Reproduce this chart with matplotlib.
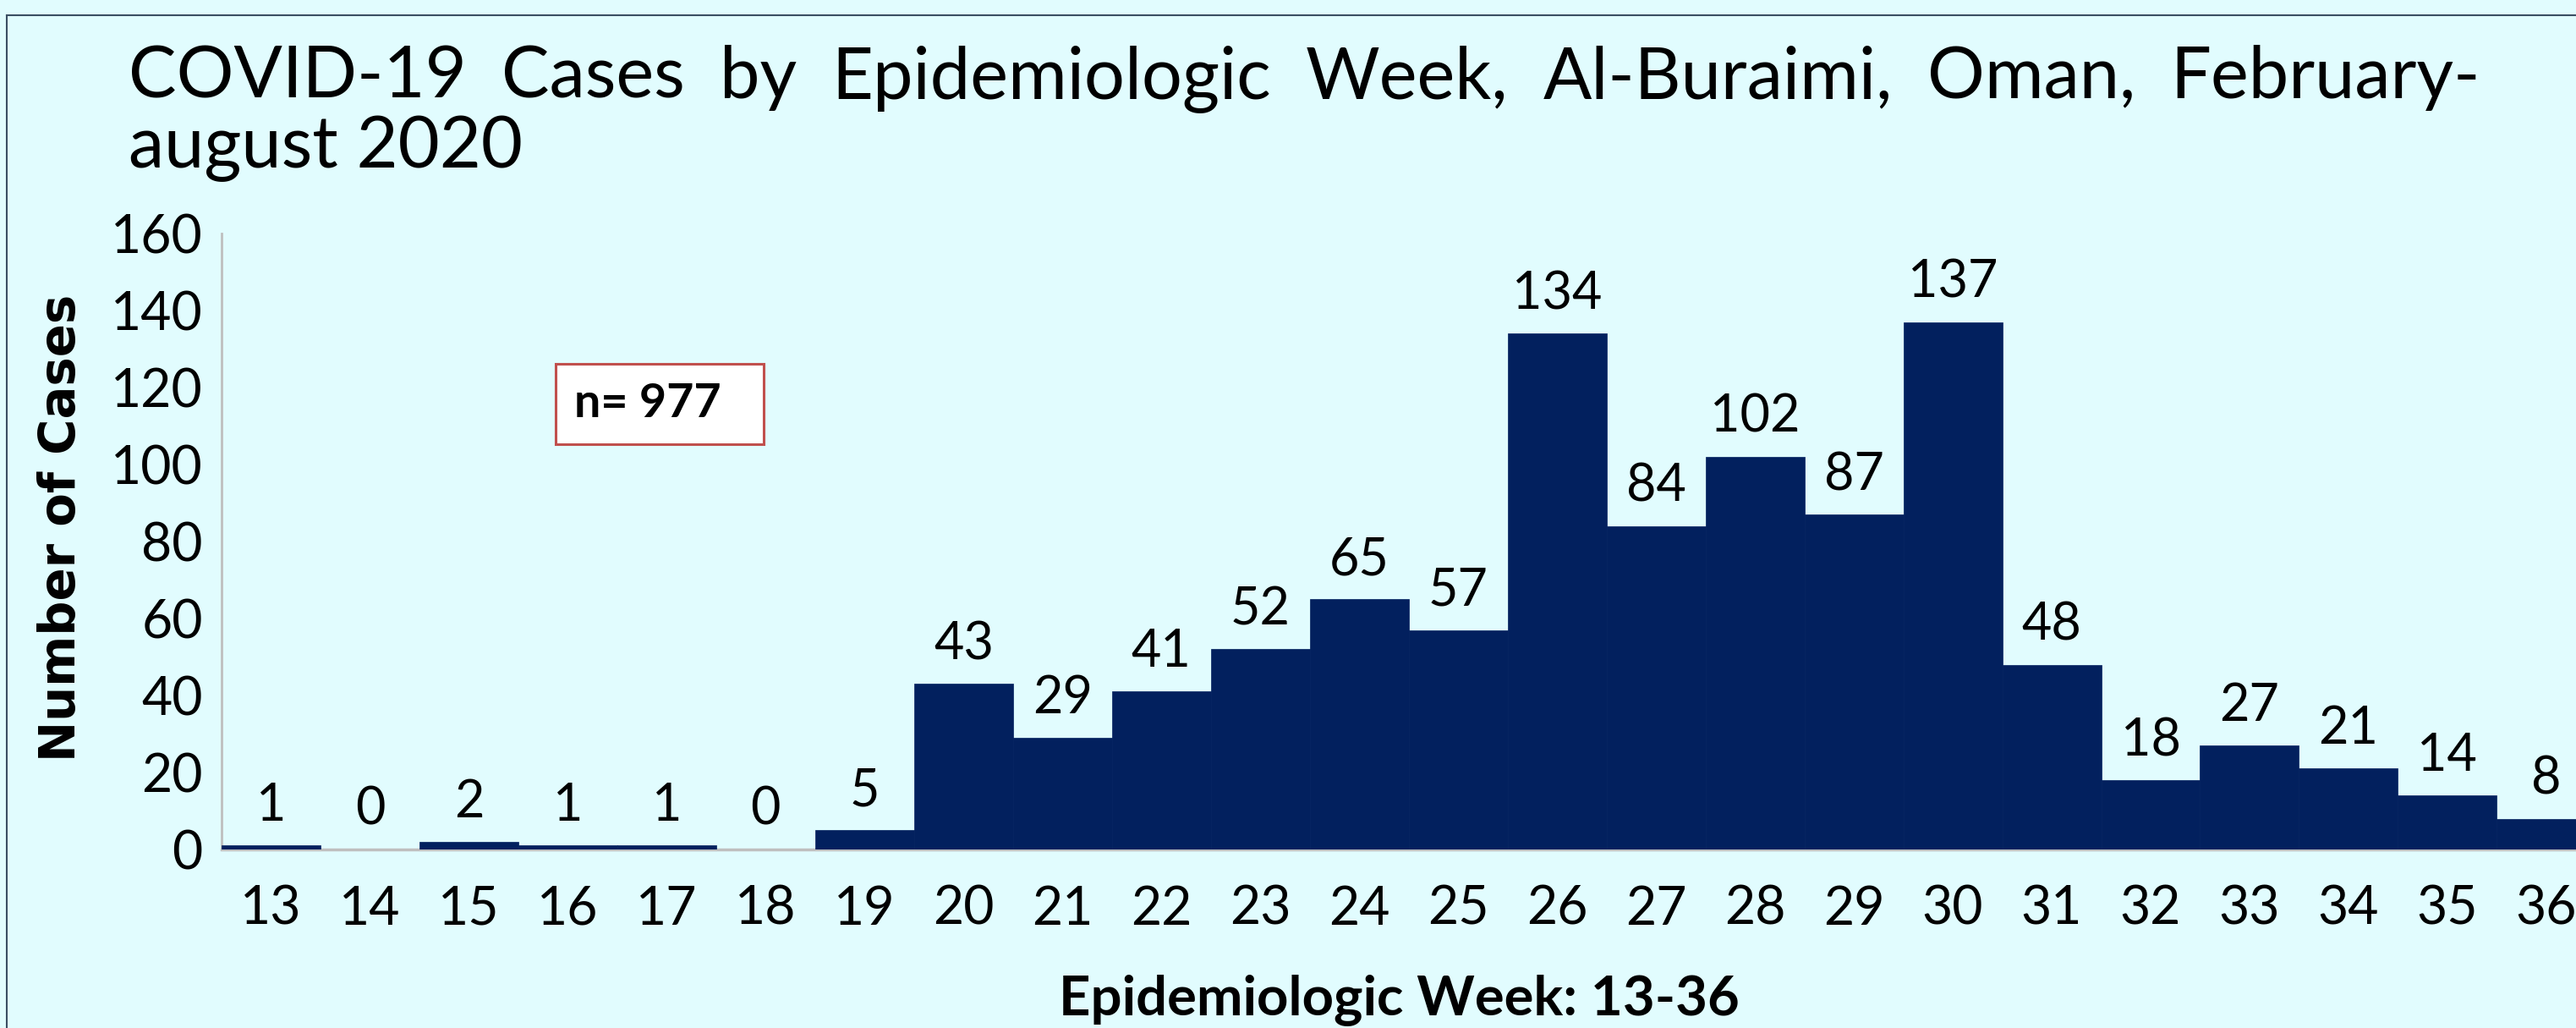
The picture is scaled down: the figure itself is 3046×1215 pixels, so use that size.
import matplotlib
matplotlib.use("Agg")
import matplotlib.pyplot as plt
from matplotlib.patches import Rectangle
from matplotlib.lines import Line2D

# ---- data ----
weeks = [str(w) for w in range(13, 37)]
cases = [1, 0, 2, 1, 1, 0, 5, 43, 29, 41, 52, 65, 57, 134, 84, 102, 87, 137,
         48, 18, 27, 21, 14, 8]
yticks = [0, 20, 40, 60, 80, 100, 120, 140, 160]
title_line1 = "COVID-19 Cases by Epidemiologic Week, Al-Buraimi, Oman, February-"
title_line2 = "august 2020"
xlabel = "Epidemiologic Week: 13-36"
ylabel = "Number of Cases"
note = "n= 977"

# ---- style ----
BG = "#E1FCFE"
BAR = "#02205E"
W, H = 3046, 1215
plt.rcParams['font.family'] = ['Lato', 'DejaVu Sans']

fig = plt.figure(figsize=(W / 100, H / 100), dpi=100, facecolor=BG)

ax_left, ax_right, ax_top, ax_bot = 262, 3046, 276, 1004
ax = fig.add_axes([ax_left / W, (H - ax_bot) / H, (ax_right - ax_left) / W,
                   (ax_bot - ax_top) / H])
ax.set_facecolor(BG)

x = list(range(len(weeks)))
ax.bar(x, cases, width=1.0, color=BAR, edgecolor=BAR, linewidth=0.5, zorder=3)

for xi, v in zip(x, cases):
    ax.annotate(str(v), (xi, v), xytext=(0, 13), textcoords='offset points',
                ha='center', va='bottom', fontsize=44, color='black', zorder=4)

ax.set_xlim(-0.5, 23.3)
ax.set_ylim(0, 160)
ax.set_xticks(x)
ax.set_xticklabels(weeks)
ax.set_yticks(yticks)
ax.tick_params(axis='both', length=0, labelsize=45, colors='black')
ax.tick_params(axis='x', pad=30)
ax.tick_params(axis='y', pad=16)

for s in ['top', 'right']:
    ax.spines[s].set_visible(False)
ax.spines['left'].set_color('#BFBFBF')
ax.spines['left'].set_linewidth(2)
ax.spines['bottom'].set_color('#BFBFBF')
ax.spines['bottom'].set_linewidth(2.5)
ax.spines['bottom'].set_zorder(2)

ax.set_xlabel(xlabel, fontsize=47, fontweight='bold', color='black')
ax.xaxis.label.set_va('top')
ax.xaxis.set_label_coords(0.5, -0.203)
ax.set_ylabel(ylabel, fontsize=41.5, fontweight='bold', color='black',
              family=['DejaVu Sans'])
ax.yaxis.label.set_va('center')
ax.yaxis.label.set_ha('center')
ax.yaxis.set_label_coords(-0.068, 0.522)

# n= box
bx0, by0, bx1, by1 = 657, 430, 903, 525
ax.add_patch(Rectangle(((bx0 - ax_left) / (ax_right - ax_left), (ax_bot - by1) / (ax_bot - ax_top)),
                       (bx1 - bx0) / (ax_right - ax_left), (by1 - by0) / (ax_bot - ax_top),
                       transform=ax.transAxes, facecolor='white', edgecolor='#C0504D',
                       linewidth=2.2, zorder=5))
ax.text((679 - ax_left) / (ax_right - ax_left), (ax_bot - 477) / (ax_bot - ax_top), note,
        transform=ax.transAxes, ha='left', va='center', fontsize=40,
        fontweight='bold', color='black', zorder=6)

# frame border
fig.add_artist(Line2D([8 / W, 8 / W], [0, 1 - 18 / H], transform=fig.transFigure,
                      color='#3A4E63', linewidth=1.5))
fig.add_artist(Line2D([8 / W, 1], [1 - 18 / H, 1 - 18 / H], transform=fig.transFigure,
                      color='#3A4E63', linewidth=1.5))

# justified title line 1
renderer = fig.canvas.get_renderer()
words = title_line1.split()
tsize = 61
x_start, x_end, base1, base2 = 152, 2933, 116, 198
texts = [fig.text(0, 1 - base1 / H, w, fontsize=tsize, ha='left', va='baseline',
                  color='black') for w in words]
widths = [t.get_window_extent(renderer).width for t in texts]
gap = (x_end - x_start - sum(widths)) / (len(words) - 1)
cx = x_start
for t, wd in zip(texts, widths):
    t.set_x(cx / W)
    cx += wd + gap
fig.text(x_start / W, 1 - base2 / H, title_line2, fontsize=tsize, ha='left',
         va='baseline', color='black')

fig.savefig('out.png', dpi=100, facecolor=BG)
